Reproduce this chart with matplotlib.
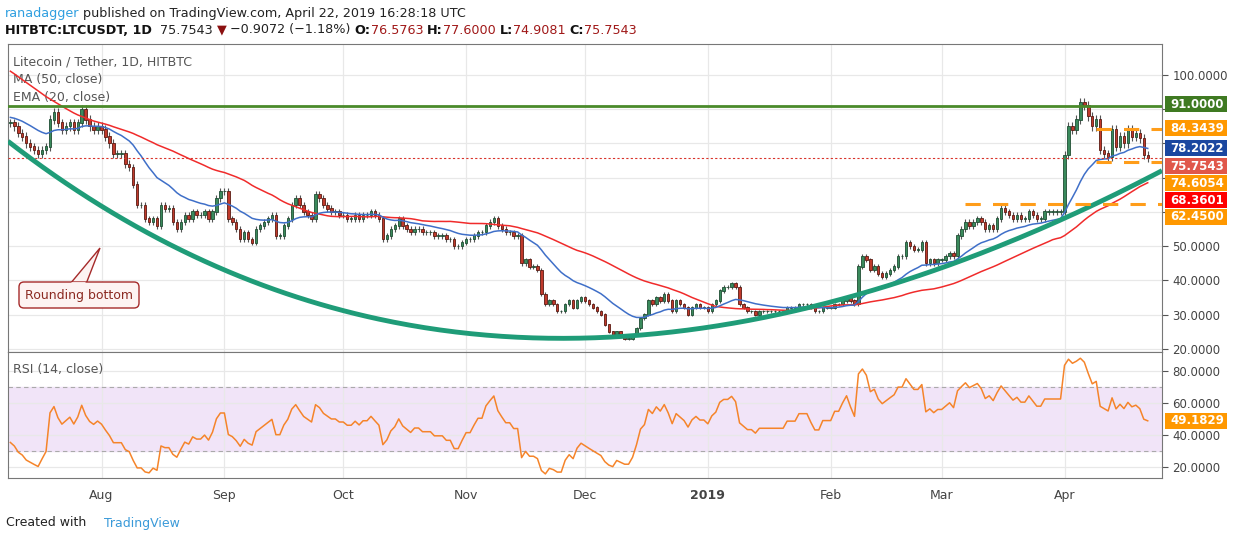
import numpy as np
import pandas as pd
import matplotlib
matplotlib.use("Agg")
import matplotlib.pyplot as plt
from matplotlib.patches import Polygon, FancyBboxPatch

# daily closes LTC/USDT (HitBTC)
pre_hist = [125, 124, 126, 123, 121, 120, 118, 119, 121, 120, 122, 123, 121, 120, 119,
            118, 117, 114, 112, 110, 108, 105, 100, 98, 99, 97, 98, 96, 95, 94, 92, 90,
            89, 87, 86, 85, 84, 86, 85, 84, 83, 82, 83, 84, 85, 86, 85, 84, 85, 86]
jul = [86, 85, 83, 82, 80, 79, 78, 77, 78, 79, 87, 89, 86, 84, 85, 86, 84, 86, 90, 87, 85, 84, 85]
aug = [84, 82, 80, 77, 77, 77, 74, 73, 68, 62, 62, 58, 57, 58, 56, 62, 61, 61, 57, 55, 57, 59,
       58, 60, 59, 59, 60, 58, 60, 64, 66]
sep = [66, 58, 57, 55, 52, 54, 52, 51, 55, 56, 57, 58, 59, 53, 53, 56, 58, 62, 64, 62, 60, 59,
       58, 65, 64, 62, 61, 60, 60, 59]
oct_ = [59, 58, 58, 59, 58, 59, 59, 60, 59, 58, 52, 53, 55, 56, 58, 56, 55, 54, 55, 55, 54, 54,
        54, 53, 53, 53, 52, 52, 50, 50, 51]
nov = [52, 52, 53, 54, 54, 56, 57, 58, 56, 55, 54, 54, 53, 53, 45, 46, 44, 44, 43, 36, 33, 34,
       33, 31, 31, 33, 34, 32, 34, 35]
dec = [34, 33, 32, 31, 30, 27, 25, 24, 25, 24, 23, 23, 24, 26, 29, 30, 34, 33, 35, 34, 36, 34,
       31, 34, 33, 32, 30, 32, 33, 32, 32]
jan = [31, 33, 34, 37, 38, 38, 39, 38, 33, 32, 31, 31, 30, 31, 31, 31, 31, 31, 31, 31, 32, 32,
       32, 33, 33, 33, 32, 31, 31, 32, 32]
feb = [32, 33, 33, 34, 35, 34, 33, 44, 47, 46, 43, 44, 42, 41, 42, 43, 44, 47, 47, 51, 50, 49,
       49, 51, 45, 46, 45, 46]
mar = [46, 47, 48, 47, 53, 55, 57, 56, 57, 58, 57, 55, 56, 55, 58, 61, 60, 59, 58, 59, 58, 58,
       60, 59, 58, 58, 60, 60, 60, 60, 60]
apr = [76.6, 85, 84, 87, 92, 91, 88, 85, 87, 78, 77, 76, 84, 79, 82, 80, 84, 82, 83, 81.5,
       76.5763, 75.7543]

closes = np.array(jul + aug + sep + oct_ + nov + dec + jan + feb + mar + apr, dtype=float)
n = len(closes)
dates = pd.date_range(end="2019-04-22", periods=n, freq="D")
allc = pd.Series(list(pre_hist) + list(closes), dtype=float)
opens = np.r_[pre_hist[-1], closes[:-1]]
highs = np.maximum(opens, closes) * 1.015
lows = np.minimum(opens, closes) * 0.985

ma50 = allc.rolling(50).mean().values[-n:]
ema20 = allc.ewm(span=20, adjust=False).mean().values[-n:]
d = allc.diff()
up = d.clip(lower=0).ewm(alpha=1 / 14, adjust=False).mean()
dn = (-d.clip(upper=0)).ewm(alpha=1 / 14, adjust=False).mean()
rsi = (100 - 100 / (1 + up / dn)).values[-n:]

month_starts = ["2018-08-01", "2018-09-01", "2018-10-01", "2018-11-01", "2018-12-01",
                "2019-01-01", "2019-02-01", "2019-03-01", "2019-04-01"]
month_labels = ["Aug", "Sep", "Oct", "Nov", "Dec", "2019", "Feb", "Mar", "Apr"]
price_ticks = [20, 30, 40, 50, 60, 70, 80, 90, 100]
# rounding bottom sketch (day index, price)
curve_pts = [(-0.6, 81.6), (23, 59.7), (46.5, 46.6), (73.2, 37.2), (138.7, 21.6),
             (190.9, 29), (214.3, 37.5), (234.5, 43), (266.5, 58.2), (289.9, 71.7)]

W, H = 1234, 541
fig = plt.figure(figsize=(W / 100, H / 100), dpi=100)
fig.patch.set_facecolor("white")

def fr(x0, y0, x1, y1):
    return [x0 / W, 1 - y1 / H, (x1 - x0) / W, (y1 - y0) / H]

ax = fig.add_axes(fr(8, 44, 1162, 352))
ax2 = fig.add_axes(fr(8, 352, 1162, 478), sharex=ax)
x = np.arange(n)
tick_x = [int((pd.Timestamp(m) - dates[0]).days) for m in month_starts]

for a in (ax, ax2):
    for s in a.spines.values():
        s.set_color("#777777")
    a.set_xticks(tick_x)
    a.grid(True, color="#e8e8e8", lw=0.9)
    a.set_axisbelow(True)
    a.yaxis.tick_right()
    a.tick_params(axis="y", colors="#555555", labelsize=8.5, length=4, labelcolor="#444444")

ax.set_xlim(-0.6, n + 2.6)
ax.set_ylim(19.1, 109.05)
ax.set_yticks(price_ticks)
# 60..90 sit under the price boxes
ax.set_yticklabels([f"{v:.4f}" if v < 60 or v > 90 else "" for v in price_ticks])
ax.tick_params(axis="x", length=0, labelbottom=False)

# candles
upc, dnc = "#3a8a5c", "#c0392b"
cols = np.where(closes >= opens, upc, dnc)
edge = np.where(closes >= opens, "#1f4d33", "#5a1a12")
ax.vlines(x, lows, highs, color="#555555", lw=0.8, zorder=2)
ax.bar(x, np.abs(closes - opens) + 0.15, bottom=np.minimum(opens, closes), width=0.62,
       color=cols, edgecolor=edge, lw=0.6, zorder=3)
ax.plot(x, ma50, color="#f02b2b", lw=1.1, zorder=4)
ax.plot(x, ema20, color="#3f6fc8", lw=1.1, zorder=4)

coef = np.polyfit([p[0] for p in curve_pts], [p[1] for p in curve_pts], 4)
cx = np.linspace(-0.6, n + 2.6, 300)
ax.plot(cx, np.polyval(coef, cx), color="#1f9c78", lw=3.5, zorder=5, solid_capstyle="butt")

ax.axhline(91, color="#4a8a2a", lw=2, zorder=4)
ax.axhline(closes[-1], color="#d9342b", lw=0.8, ls=(0, (2, 2)), zorder=4)
i_mar7 = int((pd.Timestamp("2019-03-07") - dates[0]).days)
i_apr9 = int((pd.Timestamp("2019-04-09") - dates[0]).days)
for lvl, start in [(84.3439, i_apr9), (74.6054, i_apr9), (62.45, i_mar7)]:
    ax.plot([start, n + 2.6], [lvl, lvl], color="#ff9d1a", lw=2.2, ls=(0, (5, 4)), zorder=5)

ax.text(0.004, 0.93, "Litecoin / Tether, 1D, HITBTC", transform=ax.transAxes, fontsize=9,
        color="#555555")
ax.text(0.004, 0.875, "MA (50, close)", transform=ax.transAxes, fontsize=9, color="#555555")
ax.text(0.004, 0.815, "EMA (20, close)", transform=ax.transAxes, fontsize=9, color="#555555")

# RSI panel
ax2.set_ylim(13, 92)
ax2.set_yticks([20, 40, 60, 80])
ax2.set_yticklabels(["20.0000", "40.0000", "60.0000", "80.0000"])
ax2.axhspan(30, 70, color="#f1e4f8", zorder=0)
ax2.axhline(70, color="#aaaaaa", lw=0.8, ls=(0, (4, 3)))
ax2.axhline(30, color="#aaaaaa", lw=0.8, ls=(0, (4, 3)))
ax2.plot(x, rsi, color="#f5842a", lw=1.1)
ax2.text(0.004, 0.83, "RSI (14, close)", transform=ax2.transAxes, fontsize=9, color="#555555")
ax2.set_xticklabels(month_labels)
ax2.tick_params(axis="x", length=0, labelsize=9, colors="#444444", pad=8)
ax2.get_xticklabels()[5].set_fontweight("bold")

# price labels on the right (pixel positions as on the chart)
labels = [("91.0000", 104, "#3f7a22"), ("84.3439", 128, "#ff9800"), ("78.2022", 148, "#1a47a0"),
          ("75.7543", 166, "#e0574a"), ("74.6054", 183, "#ff9800"), ("68.3601", 200, "#ff0000"),
          ("62.4500", 217, "#ff9800"), ("49.1829", 421, "#ff9800")]
for txt, py, c in labels:
    fig.patches.append(FancyBboxPatch((1165, H - py - 8), 62, 16, boxstyle="square,pad=0",
                                      transform=None, fc=c, ec="none", figure=fig))
    fig.text(1197 / W, 1 - py / H, txt, ha="center", va="center", color="white",
             fontsize=8.5, fontweight="bold")

# callout
fig.patches.append(Polygon([(70, H - 284), (86, H - 284), (100, H - 248)], closed=True,
                           transform=None, fc="#fdf3f2", ec="#a52a2a", lw=1, figure=fig))
fig.patches.append(FancyBboxPatch((19, H - 308), 120, 26, boxstyle="round,pad=0,rounding_size=5",
                                  transform=None, fc="#fdf3f2", ec="#a52a2a", lw=1, figure=fig))
fig.patches.append(Polygon([(71, H - 283), (85, H - 283)], closed=False, transform=None,
                           ec="#fdf3f2", lw=2, figure=fig))
fig.text(79 / W, 1 - 295 / H, "Rounding bottom", ha="center", va="center", fontsize=9,
         color="#8b2a22")

# header, pieces laid out one after another
renderer = fig.canvas.get_renderer()

def text_run(px, py, parts, size=9.2):
    for t, c, bold in parts:
        tt = fig.text(px / W, 1 - py / H, t, fontsize=size, color=c, va="center",
                      fontweight="bold" if bold else "normal")
        px += tt.get_window_extent(renderer).width

text_run(5, 13, [("ranadagger", "#2f9fe0", False),
                 (" published on TradingView.com, April 22, 2019 16:28:18 UTC", "#222222", False)])
text_run(5, 30, [("HITBTC:LTCUSDT, 1D", "#111111", True), ("  75.7543 ", "#222222", False),
                 ("\u25bc", "#8b1010", False), (" \u22120.9072 (\u22121.18%) ", "#222222", False),
                 ("O:", "#111111", True), ("76.5763 ", "#a01818", False),
                 ("H:", "#111111", True), ("77.6000 ", "#a01818", False),
                 ("L:", "#111111", True), ("74.9081 ", "#a01818", False),
                 ("C:", "#111111", True), ("75.7543", "#a01818", False)])

fig.text(6 / W, 1 - 523 / H, "Created with", fontsize=9, color="#222222", va="center")
fig.text(104 / W, 1 - 523 / H, "TradingView", fontsize=9, color="#3a9ad9", va="center")

fig.savefig("out.png", dpi=100)
